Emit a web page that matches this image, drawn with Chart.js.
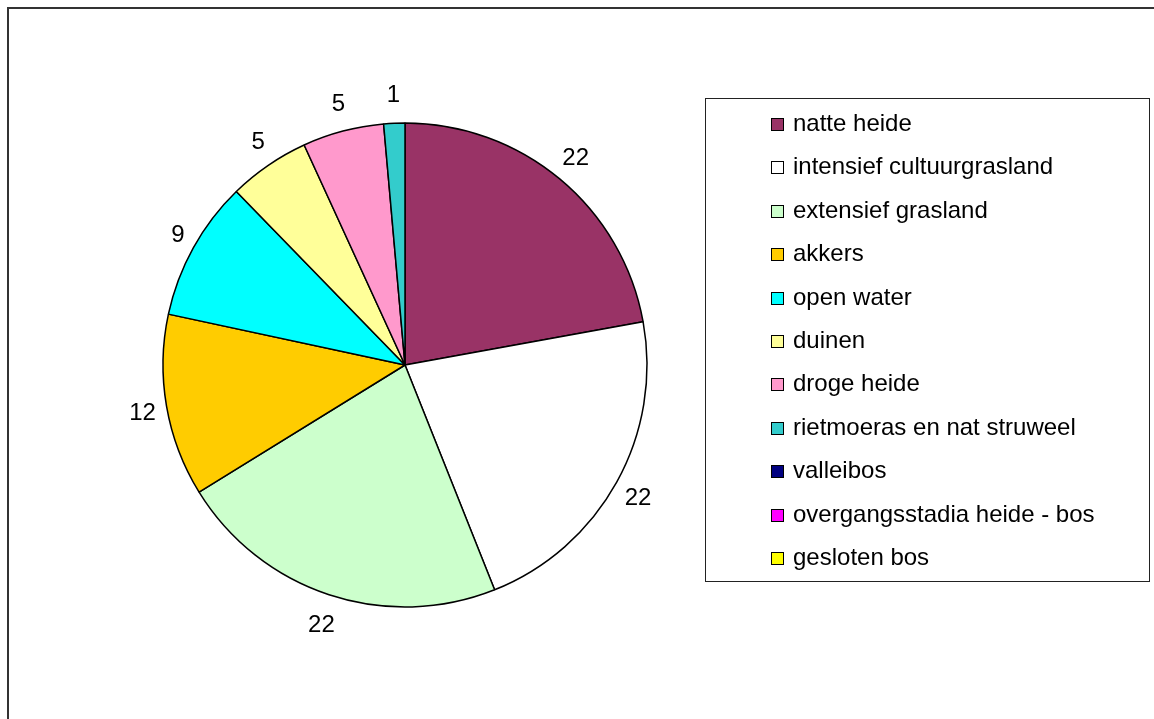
<!DOCTYPE html>
<html>
<head>
<meta charset="utf-8">
<script src="https://cdn.jsdelivr.net/npm/chart.js@4/dist/chart.umd.min.js"></script>
<style>
    body { margin: 0; background: #fff; }
    #wrap { position: relative; width: 1154px; height: 719px; overflow: hidden; font-family: "Liberation Sans", Arial, sans-serif; }
    #frame { position: absolute; left: 7px; top: 7px; width: 1200px; height: 800px; border-top: 2px solid #333; border-left: 2px solid #333; }
    #pieChart { position: absolute; left: 0; top: 0; }
    #legend { position: absolute; left: 705px; top: 98px; width: 443px; height: 482px; border: 1px solid #222; box-sizing: content-box; }
    .item { position: absolute; left: 65px; height: 28px; line-height: 28px; font-size: 24px; color: #000; white-space: nowrap; }
    .item .box { display: inline-block; width: 11px; height: 11px; border: 1px solid #000; margin-right: 9px; vertical-align: 0px; }
</style>
</head>
<body>
<div id="wrap">
    <div id="frame"></div>
    <canvas id="pieChart" width="1154" height="719"></canvas>
    <div id="legend"></div>
</div>
<script>
// 类别
const categories = [
    'natte heide',
    'intensief cultuurgrasland',
    'extensief grasland',
    'akkers',
    'open water',
    'duinen',
    'droge heide',
    'rietmoeras en nat struweel',
    'valleibos',
    'overgangsstadia heide - bos',
    'gesloten bos'
];

// 数值 (标签显示为整数)
const values = [22.0, 21.7, 22.1, 12.1, 9.3, 5.4, 5.4, 1.4, 0, 0, 0];

// 颜色
const colors = [
    '#993366', '#FFFFFF', '#CCFFCC', '#FFCC00', '#00FFFF',
    '#FFFF99', '#FF99CC', '#33CCCC', '#000080', '#FF00FF', '#FFFF00'
];

// 扇区外侧的数值标签
const valueLabels = {
    id: 'valueLabels',
    afterDatasetsDraw(chart) {
        const ctx = chart.ctx;
        const meta = chart.getDatasetMeta(0);
        const fontSize = 24;
        ctx.save();
        ctx.font = fontSize + 'px "Liberation Sans", Arial, sans-serif';
        ctx.fillStyle = '#000';
        ctx.textAlign = 'center';
        ctx.textBaseline = 'alphabetic';
        meta.data.forEach((arc, i) => {
            const v = values[i];
            if (!v) return;
            const text = String(Math.round(v));
            const w = ctx.measureText(text).width;
            const mid = (arc.startAngle + arc.endAngle) / 2;
            const ux = Math.cos(mid);
            const uy = Math.sin(mid);
            const r = arc.outerRadius + 11;
            // 文本框贴着扇区外缘放置
            const x = arc.x + ux * r + ux * w / 2;
            const y = arc.y + uy * r + uy * 19;
            ctx.fillText(text, x, y + fontSize * 0.358);
        });
        ctx.restore();
    }
};

const ctx = document.getElementById('pieChart').getContext('2d');
const pieChart = new Chart(ctx, {
    type: 'pie',
    data: {
        labels: categories,
        datasets: [{
            data: values,
            backgroundColor: colors,
            borderColor: '#000',
            borderWidth: 1.5,
            radius: 242
        }]
    },
    options: {
        responsive: false,
        animation: false,
        layout: {
            padding: { left: 163, right: 507, top: 123, bottom: 112 }
        },
        plugins: {
            legend: { display: false },
            tooltip: { enabled: false }
        }
    },
    plugins: [valueLabels]
});

// 图例
const legend = document.getElementById('legend');
categories.forEach((name, i) => {
    const item = document.createElement('div');
    item.className = 'item';
    item.style.top = (24 - 14 + i * 43.4) + 'px';
    item.innerHTML = `<span class="box" style="background:${colors[i]}"></span>${name}`;
    legend.appendChild(item);
});
</script>
</body>
</html>
